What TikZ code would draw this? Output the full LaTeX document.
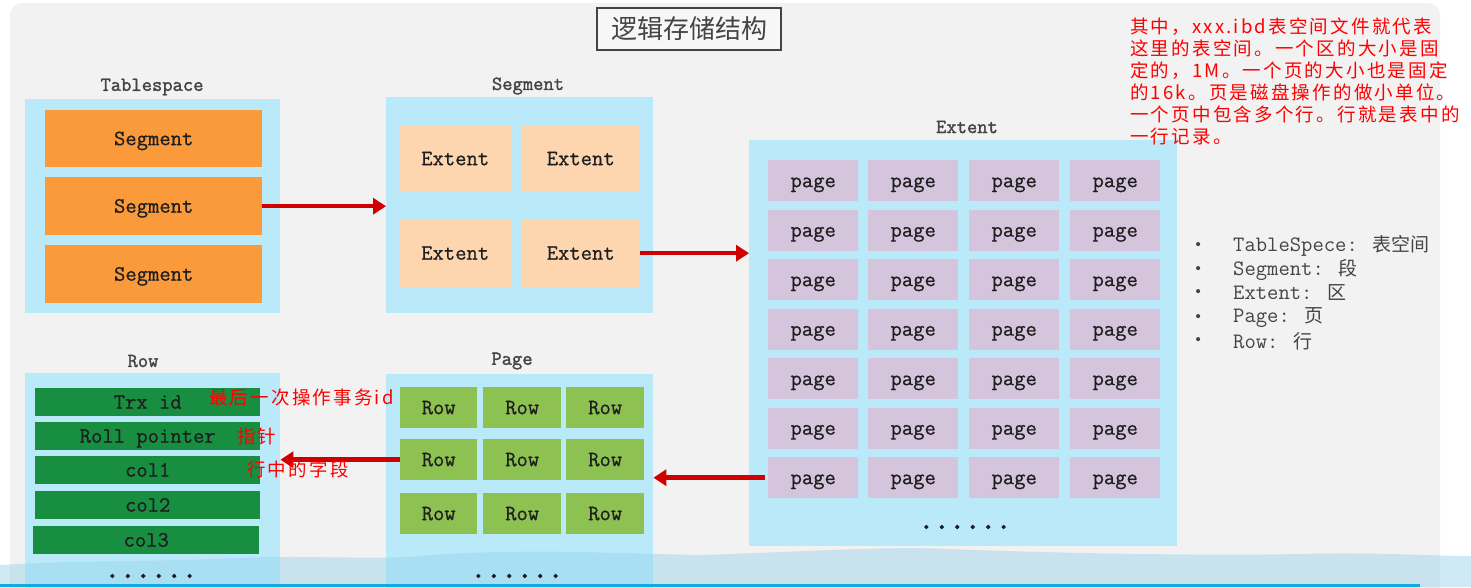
\documentclass[tikz,border=0pt]{standalone}
\usepackage{fontspec}
\newfontfamily\boxfont[FakeBold=0.7]{Latin Modern Mono}
\newfontfamily\bulfont{Latin Modern Mono}
\newfontfamily\lblfont[FakeBold=1.6]{Latin Modern Mono}
\newfontfamily\dotfont[FakeBold=3]{Latin Modern Mono}
\newfontfamily\cjk{Noto Sans CJK SC}
\newfontfamily\cjkred[LetterSpace=12]{Noto Sans CJK SC}
\usetikzlibrary{arrows.meta}
\definecolor{slidebg}{RGB}{242,242,242}
\definecolor{cont}{RGB}{186,234,250}
\definecolor{orng}{RGB}{250,154,58}
\definecolor{peach}{RGB}{253,214,176}
\definecolor{lav}{RGB}{212,196,220}
\definecolor{lgreen}{RGB}{141,193,82}
\definecolor{dgreen}{RGB}{24,142,64}
\definecolor{lbl}{RGB}{68,68,68}
\definecolor{txt}{RGB}{30,30,30}
\definecolor{annot}{RGB}{255,0,0}
\definecolor{arrred}{RGB}{208,0,0}
\definecolor{wave}{RGB}{150,210,235}
\definecolor{bline}{RGB}{20,170,225}
\tikzset{
  container/.style={fill=cont, draw=none, anchor=north west, inner sep=0pt},
  cell/.style={draw=none, anchor=north west, inner sep=0pt, text height=15pt, text depth=2pt,
               font=\boxfont\fontsize{22}{22}\selectfont, text=txt},
  lvl/.style={font=\lblfont\fontsize{20}{20}\selectfont, text=lbl},
  flow/.style={draw=arrred, line width=4.5pt, -{Triangle[length=13pt,width=16pt]}},
  redtxt/.style={font=\cjkred\fontsize{18.5}{22}\selectfont, text=annot, inner sep=0pt},
  bul/.style={font=\bulfont\fontsize{22}{22}\selectfont, text=lbl, anchor=west, inner sep=0pt},
  dots/.style={font=\dotfont\fontsize{30}{30}\selectfont, text=txt, inner sep=0pt}
}
\begin{document}
\begin{tikzpicture}[x=1pt,y=-1pt]
\useasboundingbox (0,0) rectangle (1471,587);
\clip (0,0) rectangle (1471,587);
\fill[white] (0,0) rectangle (1471,587);
\fill[slidebg, rounded corners=12pt] (10,3) rectangle (1440,620);

% title
\node[draw=lbl, line width=1.5pt, fill=slidebg!60!white, minimum width=184pt, minimum height=42pt, inner sep=0pt,
      font=\cjk\fontsize{26}{26}\selectfont, text=lbl] (title) at (689,29) {逻辑存储结构};

% Tablespace
\node[lvl] (tslbl) at (152,87) {Tablespace};
\node[container, minimum width=255pt, minimum height=214pt] (tsc) at (25,99) {};
\node[cell, fill=orng, minimum width=217pt, minimum height=57pt] (s1) at (45,110) {Segment};
\node[cell, fill=orng, minimum width=217pt, minimum height=58pt] (s2) at (45,177) {Segment};
\node[cell, fill=orng, minimum width=217pt, minimum height=58pt] (s3) at (45,245) {Segment};

% Segment
\node[lvl] (seglbl) at (528,86) {Segment};
\node[container, minimum width=267pt, minimum height=216pt] (segc) at (386,97) {};
\node[cell, fill=peach, minimum width=112pt, minimum height=67pt] (e1) at (399,125) {Extent};
\node[cell, fill=peach, minimum width=119pt, minimum height=67pt] (e2) at (521,125) {Extent};
\node[cell, fill=peach, minimum width=112pt, minimum height=68pt] (e3) at (399,219) {Extent};
\node[cell, fill=peach, minimum width=119pt, minimum height=68pt] (e4) at (521,219) {Extent};

% Extent
\node[lvl] (extlbl) at (967,127) {Extent};
\node[container, minimum width=428pt, minimum height=406pt] (extc) at (749,140) {};
\foreach \r/\yy in {1/160,2/209.5,3/259,4/308.5,5/358,6/407.5,7/457}{
  \foreach \c/\xx in {1/768,2/868,3/969,4/1070}{
    \node[cell, fill=lav, minimum width=90pt, minimum height=41pt] (p\r\c) at (\xx,\yy) {page};
  }
}
\node[dots] (extdots) at (965,527) {......};

% Page
\node[lvl] (pagelbl) at (512,361) {Page};
\node[container, minimum width=267pt, minimum height=230pt] (pagec) at (386,374) {};
\foreach \r/\yy in {1/387,2/439,3/493}{
  \foreach \c/\xx/\ww in {1/400/77,2/483/78,3/566/78}{
    \node[cell, fill=lgreen, minimum width=\ww pt, minimum height=41pt] (r\r\c) at (\xx,\yy) {Row};
  }
}

% Row
\node[lvl] (rowlbl) at (143,361) {Row};
\node[container, minimum width=255pt, minimum height=230pt] (rowc) at (25,373) {};
\node[cell, fill=dgreen, minimum width=225pt, minimum height=28pt] (c1) at (35,388) {Trx id};
\node[cell, fill=dgreen, minimum width=225pt, minimum height=28pt] (c2) at (35,422) {Roll pointer};
\node[cell, fill=dgreen, minimum width=225pt, minimum height=28pt] (c3) at (35,456) {col1};
\node[cell, fill=dgreen, minimum width=225pt, minimum height=28pt] (c4) at (35,491) {col2};
\node[cell, fill=dgreen, minimum width=226pt, minimum height=28pt] (c5) at (33,526) {col3};

% arrows
\draw[flow] (s2.east) -- (segc.west |- s2.east);
\draw[flow] (e4.east) -- (extc.west |- e4.east);
\coordinate (a3s) at ([xshift=-3pt]p71.west);
\draw[flow] (a3s) -- (pagec.east |- a3s);
\draw[flow] (r21.west) -- (rowc.east |- r21.west);

% bottom wave
\fill[wave, opacity=0.45] (0,587) -- (0,565) .. controls (80,560) and (150,562) .. (240,558)
  .. controls (300,555) and (380,560) .. (420,556) .. controls (520,548) and (600,553) .. (700,555)
  .. controls (800,552) and (880,546) .. (950,549) .. controls (1050,553) and (1200,556) .. (1300,554)
  .. controls (1380,552) and (1430,556) .. (1471,556) -- (1471,587) -- cycle;
\fill[bline] (0,584) rectangle (1420,587);

\node[dots] (pagedots) at (517,576) {......};
\node[dots] (rowdots) at (151,576) {......};

% red annotations
\node[redtxt, anchor=west] (n1) at (209,397) {最后一次操作事务id};
\node[redtxt, anchor=west] (n2) at (237,436) {指针};
\node[redtxt, anchor=west] (n3) at (247,469) {行中的字段};
\node[redtxt, anchor=north west, align=left] (note) at (1130,18) {其中，xxx.ibd表空间文件就代表\\这里的表空间。一个区的大小是固\\定的，1M。一个页的大小也是固定\\的16k。页是磁盘操作的做小单位。\\一个页中包含多个行。行就是表中的\\一行记录。};

% legend
\foreach \i/\yy/\t in {1/246/{TableSpece: {\cjk\fontsize{19}{19}\selectfont 表空间}},2/270/{Segment: {\cjk\fontsize{19}{19}\selectfont 段}},3/293/{Extent: {\cjk\fontsize{19}{19}\selectfont 区}},4/318/{Page: {\cjk\fontsize{19}{19}\selectfont 页}},5/341/{Row: {\cjk\fontsize{19}{19}\selectfont 行}}}{
  \node[bul] (bd\i) at (1194,\yy) {\fontsize{16}{16}\selectfont\textbullet};
  \node[bul] (bt\i) at (1233,\yy) {\t};
}
\end{tikzpicture}
\end{document}
